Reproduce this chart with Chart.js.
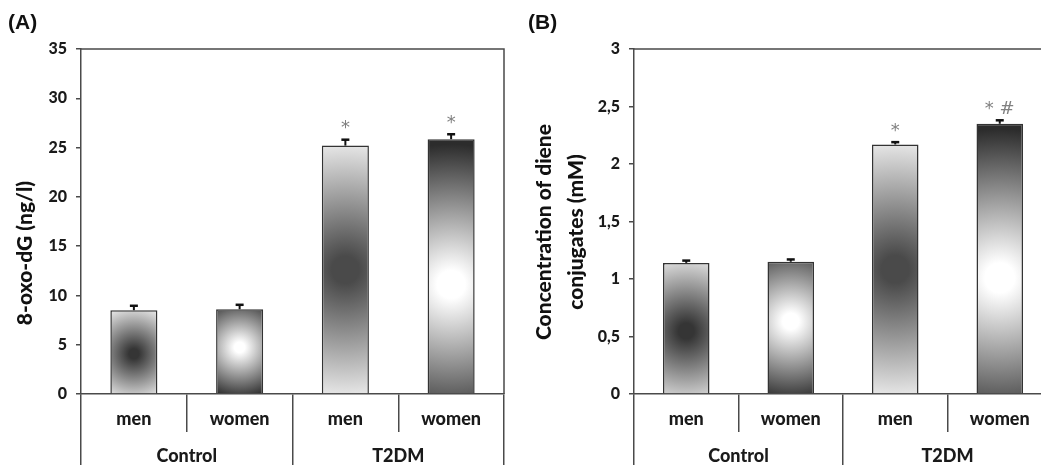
<!DOCTYPE html>
<html>
<head>
<meta charset="utf-8">
<script src="https://cdn.jsdelivr.net/npm/chart.js@4.4.1/dist/chart.umd.min.js"></script>
<style>
  html, body { margin: 0; padding: 0; background: #fff; overflow: hidden; }
  #wrap { position: relative; width: 1041px; height: 465px; overflow: hidden; }
  #chartA { position: absolute; left: 0; top: 0; }
  #chartB { position: absolute; left: 520px; top: 0; }
</style>
</head>
<body>
<div id="wrap">
  <canvas id="chartA" width="520" height="465"></canvas>
  <canvas id="chartB" width="533" height="465"></canvas>
</div>
<script>
let categories = ['men', 'women', 'men', 'women'];
let groups = ['Control', 'T2DM'];

// (A) 8-oxo-dG
let oxoValues = [8.5, 8.6, 25.2, 25.85];
let oxoErrors = [0.45, 0.45, 0.6, 0.5];
let oxoMarks = ['', '', '*', '*'];
let oxoTicks = ['0', '5', '10', '15', '20', '25', '30', '35'];

// (B) diene conjugates
let dieneValues = [1.14, 1.15, 2.17, 2.35];
let dieneErrors = [0.02, 0.02, 0.02, 0.03];
let dieneMarks = ['', '', '*', '* #'];
let dieneTicks = ['0', '0,5', '1', '1,5', '2', '2,5', '3'];

// gradient look of each bar (Excel style fills)
let fills = [
    { center: '#353535', edge: '#f0f0f0', cy: 0.52, r: 0.6 },
    { center: '#ffffff', edge: '#272727', cy: 0.45, r: 0.62 },
    { center: '#4a4a4a', edge: '#f6f6f6', cy: 0.5, r: 0.55 },
    { center: '#ffffff', edge: '#2c2c2c', cy: 0.57, r: 0.55 }
];

let lineColor = '#4a4a4a';
let fontFamily = 'Lato';

function barFill(ctx) {
    let chart = ctx.chart;
    if (!chart.chartArea || ctx.type !== 'data') {
        return '#999';
    }
    let f = fills[ctx.dataIndex];
    let x = chart.scales.x.getPixelForValue(ctx.dataIndex);
    let top = chart.scales.y.getPixelForValue(ctx.raw);
    let base = chart.scales.y.getPixelForValue(0);
    let h = base - top;
    let cy = top + h * f.cy;
    let g = chart.ctx.createRadialGradient(x, cy, 0, x, cy, h * f.r);
    g.addColorStop(0, f.center);
    g.addColorStop(0.1, f.center);
    g.addColorStop(1, f.edge);
    return g;
}

// frame, error bars, significance marks, titles
const decor = {
    id: 'decor',
    afterDatasetsDraw(chart, args, opts) {
        let c = chart.ctx;
        let a = chart.chartArea;
        let xs = chart.scales.x;
        let ys = chart.scales.y;
        c.save();
        c.strokeStyle = lineColor;
        c.lineWidth = 1.5;
        c.beginPath();
        c.moveTo(a.left, a.top);
        c.lineTo(a.right, a.top);
        c.lineTo(a.right, a.bottom);
        c.stroke();

        c.strokeStyle = '#111';
        c.lineWidth = 2;
        for (let i = 0; i < opts.values.length; i++) {
            let x = xs.getPixelForValue(i);
            let y0 = ys.getPixelForValue(opts.values[i]);
            let y1 = ys.getPixelForValue(opts.values[i] + opts.errors[i]);
            c.beginPath();
            c.moveTo(x, y0);
            c.lineTo(x, y1);
            c.stroke();
            c.lineWidth = 2.5;
            c.beginPath();
            c.moveTo(x - 4, y1);
            c.lineTo(x + 4, y1);
            c.stroke();
            c.lineWidth = 2;
            if (opts.marks[i]) {
                c.fillStyle = '#808080';
                c.font = '18px "DejaVu Sans"';
                c.textAlign = 'center';
                c.textBaseline = 'middle';
                c.fillText(opts.marks[i], x, y1 - 11);
            }
        }
        c.restore();
    },
    afterDraw(chart, args, opts) {
        let c = chart.ctx;
        c.save();
        c.fillStyle = '#111';
        c.font = 'bold 21px "Liberation Sans"';
        c.textAlign = 'left';
        c.textBaseline = 'top';
        c.fillText(opts.letter, 8, 13);

        c.font = '900 21px ' + fontFamily;
        c.textAlign = 'center';
        c.textBaseline = 'middle';
        for (let i = 0; i < opts.titleLines.length; i++) {
            c.save();
            c.translate(opts.titleX[i], opts.titleY);
            c.rotate(-Math.PI / 2);
            c.fillText(opts.titleLines[i], 0, 0);
            c.restore();
        }
        c.restore();
    }
};

function makeChart(id, values, errors, marks, yMax, yStep, yLabels, axisWidth, padRight, letter, titleLines, titleX, titleY) {
    let tickFont = { family: fontFamily, size: 16, weight: '900' };
    let catFont = { family: fontFamily, size: 18, weight: '900' };
    return new Chart(document.getElementById(id), {
        type: 'bar',
        data: {
            labels: categories,
            datasets: [{
                data: values,
                backgroundColor: barFill,
                borderColor: '#333',
                borderWidth: 1.5,
                categoryPercentage: 1,
                barPercentage: 0.445
            }]
        },
        options: {
            responsive: false,
            animation: false,
            layout: { padding: { left: 0, top: 49, right: padRight, bottom: 0 } },
            plugins: {
                legend: { display: false },
                tooltip: { enabled: false },
                decor: {
                    values: values, errors: errors, marks: marks,
                    letter: letter, titleLines: titleLines, titleX: titleX, titleY: titleY
                }
            },
            scales: {
                x: {
                    type: 'category',
                    offset: true,
                    weight: 0,
                    grid: { offset: true, drawOnChartArea: false, tickLength: 38, color: lineColor, lineWidth: 1.5 },
                    border: { color: lineColor, width: 1.5 },
                    ticks: { font: catFont, color: '#1a1a1a', padding: -24, maxRotation: 0, autoSkip: false },
                    afterFit: function (s) { s.height = 38; }
                },
                x2: {
                    type: 'category',
                    labels: groups,
                    position: 'bottom',
                    offset: true,
                    weight: 1,
                    grid: { offset: true, drawOnChartArea: false, tickLength: 33, color: lineColor, lineWidth: 1.5 },
                    border: { display: false },
                    ticks: { font: catFont, color: '#1a1a1a', padding: -20, maxRotation: 0, autoSkip: false },
                    afterFit: function (s) { s.height = 33; }
                },
                y: {
                    min: 0,
                    max: yMax,
                    ticks: {
                        stepSize: yStep,
                        font: tickFont,
                        color: '#1a1a1a',
                        padding: 9,
                        callback: function (v) { return yLabels[Math.round(v / yStep)]; }
                    },
                    grid: { drawOnChartArea: false, tickLength: 5, color: lineColor, lineWidth: 1.5 },
                    border: { color: lineColor, width: 1.5 },
                    afterFit: function (s) { s.width = axisWidth; }
                }
            }
        },
        plugins: [decor]
    });
}

makeChart('chartA', oxoValues, oxoErrors, oxoMarks, 35, 5, oxoTicks, 81, 16,
    '(A)', ['8-oxo-dG (ng/l)'], [25], 253);
makeChart('chartB', dieneValues, dieneErrors, dieneMarks, 3, 0.5, dieneTicks, 114, 1,
    '(B)', ['Concentration of diene', 'conjugates (mM)'], [24, 56], 232);
</script>
</body>
</html>
